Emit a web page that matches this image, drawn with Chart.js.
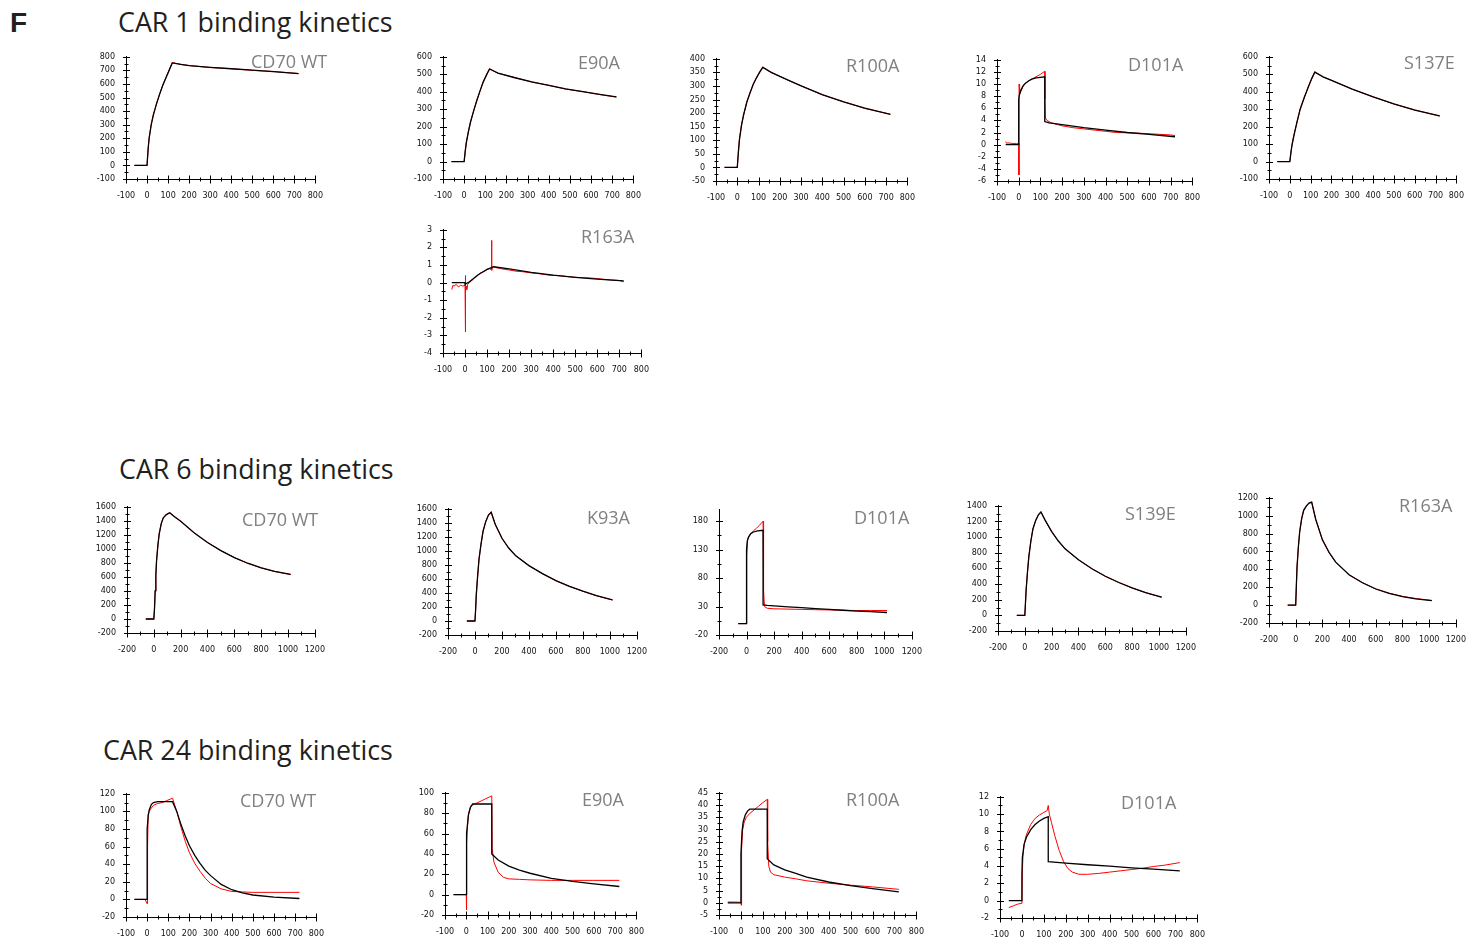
<!DOCTYPE html>
<html><head><meta charset="utf-8">
<script src="https://cdn.jsdelivr.net/npm/chart.js@4.4.0/dist/chart.umd.min.js"></script>
<style>
html,body{margin:0;padding:0;background:#fff;}
body{width:1466px;height:939px;position:relative;overflow:hidden;font-family:'Open Sans',sans-serif;}
canvas{position:absolute;}
.sec{position:absolute;font-size:26.8px;color:#231f20;line-height:1;white-space:nowrap;}
.pt{position:absolute;font-size:18px;color:#808080;line-height:1;white-space:nowrap;z-index:2;}
.F{position:absolute;font-family:'Liberation Sans',Arial,sans-serif;font-weight:bold;font-size:28px;line-height:1;color:#231f20;}
</style></head><body>
<div class="F" style="left:10px;top:9px;">F</div>
<div class="sec" style="left:118px;top:9px;">CAR 1 binding kinetics</div>
<div class="sec" style="left:119px;top:456px;">CAR 6 binding kinetics</div>
<div class="sec" style="left:103px;top:737px;">CAR 24 binding kinetics</div>
<script>
// ---------- tick labels ----------
const xTicks800 = [-100, 0, 100, 200, 300, 400, 500, 600, 700, 800];
const xTicks1200 = [-200, 0, 200, 400, 600, 800, 1000, 1200];

const c1_wt_yTicks = [-100, 0, 100, 200, 300, 400, 500, 600, 700, 800];
const c1_e90a_yTicks = [-100, 0, 100, 200, 300, 400, 500, 600];
const c1_r100a_yTicks = [-50, 0, 50, 100, 150, 200, 250, 300, 350, 400];
const c1_d101a_yTicks = [-6, -4, -2, 0, 2, 4, 6, 8, 10, 12, 14];
const c1_s137e_yTicks = [-100, 0, 100, 200, 300, 400, 500, 600];
const c1_r163a_yTicks = [-4, -3, -2, -1, 0, 1, 2, 3];
const c6_wt_yTicks = [-200, 0, 200, 400, 600, 800, 1000, 1200, 1400, 1600];
const c6_k93a_yTicks = [-200, 0, 200, 400, 600, 800, 1000, 1200, 1400, 1600];
const c6_d101a_yTicks = [-20, 30, 80, 130, 180];
const c6_d101a_yRange = [-20, 200];
const c6_s139e_yTicks = [-200, 0, 200, 400, 600, 800, 1000, 1200, 1400];
const c6_r163a_yTicks = [-200, 0, 200, 400, 600, 800, 1000, 1200];
const c24_wt_yTicks = [-20, 0, 20, 40, 60, 80, 100, 120];
const c24_e90a_yTicks = [-20, 0, 20, 40, 60, 80, 100];
const c24_r100a_yTicks = [-5, 0, 5, 10, 15, 20, 25, 30, 35, 40, 45];
const c24_d101a_yTicks = [-2, 0, 2, 4, 6, 8, 10, 12];

// ---------- CAR 1 ----------
const c1_wt_t = [-60, 0, 5, 10, 20, 30, 45, 60, 75, 90, 105, 120, 160, 200, 300, 400, 500, 600, 720];
const c1_wt_fit = [0, 0, 120, 200, 300, 370, 455, 525, 590, 645, 700, 755, 745, 735, 722, 712, 702, 691, 676];
const c1_wt_obs = [0, 0, 112, 206, 304, 376, 450, 528, 594, 648, 703, 758, 744, 736, 721, 713, 700, 692, 677];

const c1_e90a_t = [-60, 0, 5, 10, 20, 30, 45, 60, 75, 90, 105, 120, 160, 240, 320, 400, 480, 560, 640, 720];
const c1_e90a_fit = [0, 0, 60, 105, 170, 225, 292, 350, 405, 455, 495, 530, 507, 480, 456, 436, 416, 400, 385, 370];
const c1_e90a_obs = [0, 0, 55, 110, 172, 228, 288, 352, 403, 457, 493, 532, 506, 481, 455, 437, 415, 401, 384, 369];

const c1_r100a_t = [-60, 0, 5, 10, 20, 30, 45, 60, 75, 90, 105, 120, 160, 200, 250, 300, 400, 500, 600, 720];
const c1_r100a_fit = [0, 0, 55, 100, 155, 195, 240, 275, 305, 330, 350, 368, 350, 335, 318, 300, 268, 241, 218, 195];
const c1_r100a_obs = [0, 0, 50, 104, 158, 192, 243, 273, 307, 328, 352, 370, 349, 336, 317, 301, 267, 242, 217, 196];

const c1_d101a_fitT = [-60, 0, 0, 3, 10, 20, 30, 45, 60, 80, 100, 120, 120, 140, 200, 300, 400, 500, 600, 720];
const c1_d101a_fit = [0, 0, 7.5, 8.2, 9.0, 9.7, 10.1, 10.5, 10.8, 11.0, 11.1, 11.2, 3.8, 3.6, 3.3, 2.8, 2.4, 2.0, 1.7, 1.3];
const c1_d101a_obsT = [-60, -55, -50, -30, -10, 0, 1, 2, 3, 5, 10, 20, 30, 45, 60, 80, 100, 120, 121, 123, 130, 150, 200, 250, 300, 350, 400, 450, 500, 550, 600, 650, 700, 720];
const c1_d101a_obs = [0.5, 0.2, 0.3, 0.2, 0.2, 0.2, -5.0, 10.0, 8.5, 8.3, 8.8, 9.6, 10.1, 10.5, 10.8, 11.2, 11.6, 12.1, 7.5, 4.4, 4.0, 3.6, 3.1, 2.8, 2.6, 2.4, 2.2, 2.0, 1.95, 1.9, 1.8, 1.7, 1.6, 1.5];

const c1_s137e_t = [-60, 0, 5, 10, 20, 35, 50, 70, 90, 105, 120, 160, 200, 300, 400, 500, 600, 720];
const c1_s137e_fit = [0, 0, 50, 90, 150, 230, 300, 370, 430, 475, 512, 485, 465, 415, 370, 330, 295, 262];
const c1_s137e_obs = [0, 0, 45, 95, 155, 226, 305, 366, 434, 472, 515, 484, 466, 414, 371, 329, 296, 260];

const c1_r163a_fitT = [-60, 0, 0, 20, 40, 60, 80, 100, 120, 130, 200, 300, 400, 500, 600, 720];
const c1_r163a_fit = [0, 0, -0.1, 0.05, 0.25, 0.45, 0.6, 0.75, 0.85, 0.9, 0.78, 0.58, 0.42, 0.3, 0.2, 0.1];
const c1_r163a_obsT = [-60, -55, -50, -40, -30, -20, -10, 0, 1, 2, 3, 5, 8, 12, 20, 30, 40, 50, 60, 70, 80, 90, 100, 110, 118, 120, 121, 122, 125, 140, 160, 180, 200, 230, 260, 300, 340, 380, 420, 460, 500, 540, 580, 620, 660, 700, 720];
const c1_r163a_obs = [-0.4, -0.15, -0.2, -0.1, -0.25, -0.15, -0.2, -0.15, 0.4, -2.8, -0.3, -0.2, -0.4, -0.1, 0.0, 0.1, 0.25, 0.35, 0.45, 0.55, 0.6, 0.65, 0.75, 0.8, 0.75, 0.8, 2.4, 0.7, 0.9, 0.85, 0.8, 0.75, 0.72, 0.65, 0.62, 0.55, 0.5, 0.42, 0.4, 0.35, 0.3, 0.28, 0.25, 0.2, 0.15, 0.12, 0.05];

// ---------- CAR 6 ----------
const c6_wt_t = [-60, 0, 5, 10, 15, 20, 30, 40, 55, 70, 90, 110, 120, 150, 200, 300, 400, 500, 600, 700, 800, 900, 1020];
const c6_wt_fit = [0, 0, 150, 400, 620, 820, 1050, 1210, 1360, 1440, 1485, 1505, 1512, 1465, 1395, 1230, 1090, 975, 875, 795, 730, 680, 635];
const c6_wt_obs = [0, 0, 140, 410, 610, 830, 1040, 1220, 1355, 1445, 1480, 1510, 1518, 1462, 1396, 1228, 1092, 973, 877, 793, 731, 678, 633];

const c6_k93a_t = [-60, 0, 5, 10, 20, 30, 45, 60, 80, 100, 120, 150, 200, 250, 300, 400, 500, 600, 700, 800, 900, 1020];
const c6_k93a_fit = [0, 0, 170, 380, 650, 880, 1100, 1280, 1420, 1510, 1550, 1380, 1180, 1040, 935, 790, 675, 575, 495, 425, 360, 300];
const c6_k93a_obs = [0, 0, 160, 390, 640, 890, 1095, 1285, 1415, 1512, 1556, 1378, 1182, 1038, 936, 789, 676, 574, 496, 424, 361, 298];

const c6_d101a_fitT = [-60, 0, 0, 5, 15, 30, 50, 80, 120, 120, 150, 200, 300, 400, 500, 600, 700, 800, 900, 1020];
const c6_d101a_fit = [0, 0, 130, 145, 152, 158, 161, 163, 164, 33, 32, 31, 29.5, 28, 26.5, 25, 23.5, 22, 21, 19.5];
const c6_d101a_obsT = [-60, 0, 0, 3, 8, 15, 30, 50, 70, 90, 110, 120, 122, 125, 130, 150, 200, 300, 400, 500, 600, 700, 800, 900, 1020];
const c6_d101a_obs = [0, 0, 75, 120, 148, 153, 158, 163, 167, 172, 177, 180, 140, 60, 30, 27, 26, 25.5, 25, 24.5, 24, 23.5, 23, 23, 23];

const c6_s139e_t = [-60, 0, 5, 10, 20, 30, 45, 60, 80, 100, 120, 150, 200, 250, 300, 400, 500, 600, 700, 800, 900, 1020];
const c6_s139e_fit = [0, 0, 170, 330, 560, 750, 950, 1100, 1210, 1280, 1320, 1220, 1070, 950, 850, 710, 595, 500, 420, 350, 290, 232];
const c6_s139e_obs = [0, 0, 160, 340, 555, 756, 945, 1104, 1206, 1284, 1326, 1218, 1072, 948, 851, 709, 596, 499, 421, 349, 291, 230];

const c6_r163a_t = [-60, 0, 5, 10, 20, 30, 45, 60, 80, 100, 120, 150, 200, 250, 300, 400, 500, 600, 700, 800, 900, 1020];
const c6_r163a_fit = [0, 0, 220, 420, 650, 820, 970, 1060, 1110, 1140, 1150, 960, 730, 590, 480, 340, 250, 180, 130, 95, 70, 50];
const c6_r163a_obs = [0, 0, 210, 430, 645, 826, 965, 1064, 1106, 1144, 1156, 958, 732, 588, 481, 338, 252, 182, 134, 98, 74, 52];

// ---------- CAR 24 ----------
const c24_wt_fitT = [-60, 0, 0, 5, 10, 20, 30, 50, 80, 120, 140, 160, 180, 200, 225, 250, 275, 300, 350, 400, 450, 500, 600, 720];
const c24_wt_fit = [0, 0, 80, 95, 102, 108, 110, 111, 111, 111, 100, 85, 72, 61, 50, 41, 33, 27, 17, 11, 7.5, 5, 2.5, 1];
const c24_wt_obsT = [-60, -10, 0, 2, 5, 10, 20, 30, 50, 70, 90, 110, 120, 140, 160, 180, 200, 225, 250, 275, 300, 350, 400, 450, 500, 600, 720];
const c24_wt_obs = [0, 0, -5, 60, 97, 100, 104, 107, 109, 110, 112, 114, 115, 100, 82, 66, 53, 41, 32, 24, 18, 12, 9, 8.5, 8, 8, 8];

const c24_e90a_fitT = [-60, 0, 0, 3, 10, 20, 30, 60, 90, 120, 120, 150, 200, 250, 300, 400, 500, 600, 720];
const c24_e90a_fit = [0, 0, 40, 60, 78, 86, 89, 89, 89, 89, 40, 34, 28, 24, 21, 16, 13, 10.5, 8];
const c24_e90a_obsT = [-60, 0, 1, 2, 5, 10, 15, 20, 30, 50, 70, 90, 110, 120, 122, 130, 150, 175, 200, 250, 300, 400, 500, 600, 720];
const c24_e90a_obs = [0, 0, -15, 50, 65, 78, 83, 86, 88, 90, 92, 94, 96, 97, 45, 32, 22, 17, 15.5, 15, 14.5, 14, 14, 14, 14];

const c24_r100a_fitT = [-60, 0, 0, 5, 10, 20, 30, 40, 80, 120, 120, 150, 200, 250, 300, 400, 500, 600, 720];
const c24_r100a_fit = [0, 0, 20, 29, 33, 36, 37.5, 38.3, 38.3, 38.3, 18, 15.5, 13.5, 12, 10.5, 8.5, 7, 5.8, 4.5];
const c24_r100a_obsT = [-60, -30, 0, 1, 3, 8, 15, 25, 40, 60, 80, 100, 120, 122, 127, 135, 150, 200, 250, 300, 400, 500, 600, 720];
const c24_r100a_obs = [0.3, 0.3, 0.2, -1, 22, 30, 33, 35, 36.5, 38, 39.5, 41, 42.3, 25, 15, 12.5, 11.5, 10.5, 9.8, 9, 8, 7.2, 6.5, 5.5];

const c24_d101a_fitT = [-60, 0, 0, 2, 10, 20, 40, 60, 80, 100, 120, 120, 200, 300, 400, 500, 600, 720];
const c24_d101a_fit = [0, 0, 3, 5, 6.5, 7.3, 8.2, 8.8, 9.2, 9.5, 9.7, 4.5, 4.35, 4.15, 4.0, 3.8, 3.65, 3.45];
const c24_d101a_obsT = [-60, -40, -20, 0, 2, 5, 10, 20, 40, 60, 80, 100, 115, 120, 125, 135, 150, 170, 190, 210, 230, 260, 300, 350, 400, 450, 500, 550, 600, 650, 720];
const c24_d101a_obs = [-0.8, -0.6, -0.4, -0.3, 3.5, 5.2, 6.5, 7.6, 8.8, 9.5, 9.9, 10.2, 10.4, 11.0, 10.0, 9.0, 7.5, 5.8, 4.5, 3.7, 3.3, 3.05, 3.05, 3.15, 3.3, 3.45, 3.6, 3.75, 3.95, 4.1, 4.4];

// ---------- panels (data references) ----------
const panels = [
  {key: 'c1_wt', title: 'CD70 WT', xTicks: xTicks800, yTicks: c1_wt_yTicks, fitT: c1_wt_t, fit: c1_wt_fit, obsT: c1_wt_t, obs: c1_wt_obs},
  {key: 'c1_e90a', title: 'E90A', xTicks: xTicks800, yTicks: c1_e90a_yTicks, fitT: c1_e90a_t, fit: c1_e90a_fit, obsT: c1_e90a_t, obs: c1_e90a_obs},
  {key: 'c1_r100a', title: 'R100A', xTicks: xTicks800, yTicks: c1_r100a_yTicks, fitT: c1_r100a_t, fit: c1_r100a_fit, obsT: c1_r100a_t, obs: c1_r100a_obs},
  {key: 'c1_d101a', title: 'D101A', xTicks: xTicks800, yTicks: c1_d101a_yTicks, fitT: c1_d101a_fitT, fit: c1_d101a_fit, obsT: c1_d101a_obsT, obs: c1_d101a_obs},
  {key: 'c1_s137e', title: 'S137E', xTicks: xTicks800, yTicks: c1_s137e_yTicks, fitT: c1_s137e_t, fit: c1_s137e_fit, obsT: c1_s137e_t, obs: c1_s137e_obs},
  {key: 'c1_r163a', title: 'R163A', xTicks: xTicks800, yTicks: c1_r163a_yTicks, fitT: c1_r163a_fitT, fit: c1_r163a_fit, obsT: c1_r163a_obsT, obs: c1_r163a_obs},
  {key: 'c6_wt', title: 'CD70 WT', xTicks: xTicks1200, yTicks: c6_wt_yTicks, fitT: c6_wt_t, fit: c6_wt_fit, obsT: c6_wt_t, obs: c6_wt_obs},
  {key: 'c6_k93a', title: 'K93A', xTicks: xTicks1200, yTicks: c6_k93a_yTicks, fitT: c6_k93a_t, fit: c6_k93a_fit, obsT: c6_k93a_t, obs: c6_k93a_obs},
  {key: 'c6_d101a', title: 'D101A', xTicks: xTicks1200, yTicks: c6_d101a_yTicks, yRange: c6_d101a_yRange, fitT: c6_d101a_fitT, fit: c6_d101a_fit, obsT: c6_d101a_obsT, obs: c6_d101a_obs},
  {key: 'c6_s139e', title: 'S139E', xTicks: xTicks1200, yTicks: c6_s139e_yTicks, fitT: c6_s139e_t, fit: c6_s139e_fit, obsT: c6_s139e_t, obs: c6_s139e_obs},
  {key: 'c6_r163a', title: 'R163A', xTicks: xTicks1200, yTicks: c6_r163a_yTicks, fitT: c6_r163a_t, fit: c6_r163a_fit, obsT: c6_r163a_t, obs: c6_r163a_obs},
  {key: 'c24_wt', title: 'CD70 WT', xTicks: xTicks800, yTicks: c24_wt_yTicks, fitT: c24_wt_fitT, fit: c24_wt_fit, obsT: c24_wt_obsT, obs: c24_wt_obs},
  {key: 'c24_e90a', title: 'E90A', xTicks: xTicks800, yTicks: c24_e90a_yTicks, fitT: c24_e90a_fitT, fit: c24_e90a_fit, obsT: c24_e90a_obsT, obs: c24_e90a_obs},
  {key: 'c24_r100a', title: 'R100A', xTicks: xTicks800, yTicks: c24_r100a_yTicks, fitT: c24_r100a_fitT, fit: c24_r100a_fit, obsT: c24_r100a_obsT, obs: c24_r100a_obs},
  {key: 'c24_d101a', title: 'D101A', xTicks: xTicks800, yTicks: c24_d101a_yTicks, fitT: c24_d101a_fitT, fit: c24_d101a_fit, obsT: c24_d101a_obsT, obs: c24_d101a_obs}
];

// ---------- layout (page pixels): y-axis x, x-axis end, y top, y bottom, title left, title centre ----------
const layout = {
  c1_wt:     {ax: 126,  xe: 315,  yt: 57,  yb: 179, tx: 251,  ty: 61},
  c1_e90a:   {ax: 443,  xe: 633,  yt: 57,  yb: 179, tx: 578,  ty: 62},
  c1_r100a:  {ax: 716,  xe: 907,  yt: 59,  yb: 181, tx: 846,  ty: 65},
  c1_d101a:  {ax: 997,  xe: 1192, yt: 60,  yb: 181, tx: 1128, ty: 64},
  c1_s137e:  {ax: 1269, xe: 1456, yt: 57,  yb: 179, tx: 1404, ty: 62},
  c1_r163a:  {ax: 443,  xe: 641,  yt: 230, yb: 353, tx: 581,  ty: 236},
  c6_wt:     {ax: 127,  xe: 315,  yt: 507, yb: 633, tx: 242,  ty: 519},
  c6_k93a:   {ax: 448,  xe: 637,  yt: 509, yb: 635, tx: 587,  ty: 517},
  c6_d101a:  {ax: 719,  xe: 912,  yt: 510, yb: 635, tx: 854,  ty: 517},
  c6_s139e:  {ax: 998,  xe: 1186, yt: 506, yb: 631, tx: 1125, ty: 513},
  c6_r163a:  {ax: 1269, xe: 1456, yt: 498, yb: 623, tx: 1399, ty: 505},
  c24_wt:    {ax: 126,  xe: 316,  yt: 794, yb: 917, tx: 240,  ty: 800},
  c24_e90a:  {ax: 445,  xe: 636,  yt: 793, yb: 915, tx: 582,  ty: 799},
  c24_r100a: {ax: 719,  xe: 916,  yt: 793, yb: 915, tx: 846,  ty: 799},
  c24_d101a: {ax: 1000, xe: 1197, yt: 797, yb: 918, tx: 1121, ty: 802}
};

const tickMarks = {
  id: 'tickMarks',
  afterDraw(chart) {
    const {ctx, chartArea: a, scales: {x, y}} = chart;
    const xMaj = x.ticks.map(t => t.value), yMaj = y.ticks.map(t => t.value);
    const mids = arr => arr.slice(1).map((v, i) => (v + arr[i]) / 2);
    const ax = Math.round(a.left) + 0.5, ay = Math.round(a.bottom) + 0.5;
    ctx.save();
    ctx.strokeStyle = '#000';
    ctx.lineWidth = 1;
    ctx.beginPath();
    yMaj.forEach(v => { const p = Math.round(y.getPixelForValue(v)) + 0.5; ctx.moveTo(ax - 3.5, p); ctx.lineTo(ax + 3.5, p); });
    mids(yMaj).forEach(v => { const p = Math.round(y.getPixelForValue(v)) + 0.5; ctx.moveTo(ax - 2, p); ctx.lineTo(ax + 2, p); });
    xMaj.forEach(v => { const p = Math.round(x.getPixelForValue(v)) + 0.5; ctx.moveTo(p, ay - 4); ctx.lineTo(p, ay + 4); });
    mids(xMaj).forEach(v => { const p = Math.round(x.getPixelForValue(v)) + 0.5; ctx.moveTo(p, ay - 2); ctx.lineTo(p, ay + 2); });
    ctx.stroke();
    ctx.restore();
  }
};

const zip = (t, v) => t.map((tt, i) => ({x: tt, y: v[i]}));
const W = 40, H = 26, PT = 8, PR = 14;
const tickFont = {family: 'DejaVu Sans', size: 8};

function build(cv, p) {
  const yr = p.yRange || [p.yTicks[0], p.yTicks[p.yTicks.length - 1]];
  const xr = [p.xTicks[0], p.xTicks[p.xTicks.length - 1]];
  return new Chart(cv, {
    type: 'line',
    data: {datasets: [
      {data: zip(p.fitT, p.fit), borderColor: '#000', borderWidth: 1.3, pointRadius: 0, tension: 0, order: 0},
      {data: zip(p.obsT, p.obs), borderColor: '#ff0000', borderWidth: 1, pointRadius: 0, tension: 0, order: 1}
    ]},
    options: {
      responsive: false, maintainAspectRatio: false, animation: false, devicePixelRatio: 1,
      layout: {padding: {top: PT, right: PR, left: 0, bottom: 0}},
      plugins: {legend: {display: false}, tooltip: {enabled: false}},
      events: [],
      scales: {
        x: {
          type: 'linear', min: xr[0], max: xr[1],
          afterBuildTicks: s => { s.ticks = p.xTicks.map(v => ({value: v})); },
          afterFit: s => { s.height = H; },
          grid: {display: false, drawTicks: false},
          border: {display: true, color: '#000', width: 1},
          ticks: {padding: 12, color: '#111', font: tickFont, maxRotation: 0, autoSkip: false, callback: v => String(v)}
        },
        y: {
          type: 'linear', min: yr[0], max: yr[1],
          afterBuildTicks: s => { s.ticks = p.yTicks.map(v => ({value: v})); },
          afterFit: s => { s.width = W; },
          grid: {display: false, drawTicks: false},
          border: {display: true, color: '#000', width: 1},
          ticks: {padding: 11, color: '#111', font: tickFont, autoSkip: false, callback: v => String(v)}
        }
      }
    },
    plugins: [tickMarks]
  });
}

panels.forEach(p => {
  const L = layout[p.key];
  let cw = (L.xe - L.ax) + W + PR, ch = (L.yb - L.yt) + PT + H;
  const cv = document.createElement('canvas');
  cv.width = cw; cv.height = ch;
  cv.style.width = cw + 'px'; cv.style.height = ch + 'px';
  document.body.appendChild(cv);
  // first pass: measure the plot area, then resize the canvas so it matches the layout
  let chart = build(cv, p);
  let a = chart.chartArea;
  cw = Math.round(cw + (L.xe - L.ax) - (a.right - a.left));
  ch = Math.round(ch + (L.yb - L.yt) - (a.bottom - a.top));
  chart.destroy();
  cv.width = cw; cv.height = ch;
  cv.style.width = cw + 'px'; cv.style.height = ch + 'px';
  chart = build(cv, p);
  a = chart.chartArea;
  cv.style.left = Math.round(L.ax - a.left) + 'px';
  cv.style.top = Math.round(L.yt - a.top) + 'px';

  const t = document.createElement('div');
  t.className = 'pt';
  t.textContent = p.title;
  t.style.left = L.tx + 'px';
  t.style.top = (L.ty - 9.5) + 'px';
  document.body.appendChild(t);
});
</script>
</body></html>
